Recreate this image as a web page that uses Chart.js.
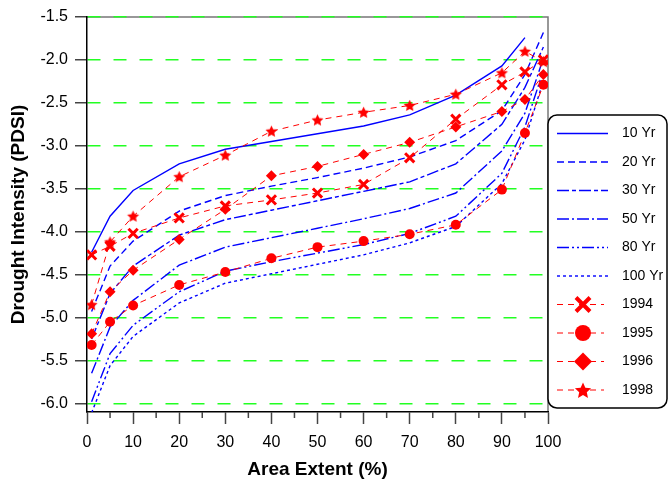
<!DOCTYPE html>
<html>
<head>
<meta charset="utf-8">
<script src="https://cdn.jsdelivr.net/npm/chart.js@4.4.1/dist/chart.umd.min.js"></script>
<style>
  html, body { margin: 0; padding: 0; background: #fff; }
</style>
</head>
<body>
<canvas id="droughtChart" width="669" height="481"></canvas>
<script>
// area extent (%) where each curve was sampled
const areaExtent = [1, 5, 10, 20, 30, 40, 50, 60, 70, 80, 90, 95, 99];

// return period curves
const yr10  = [-4.24, -3.82, -3.52, -3.21, -3.04, -2.95, -2.86, -2.77, -2.64, -2.41, -2.07, -1.74, null];
const yr20  = [-4.93, -4.40, -4.11, -3.76, -3.58, -3.47, -3.37, -3.26, -3.13, -2.94, -2.59, -2.17, -1.68];
const yr30  = [-5.25, -4.72, -4.40, -4.04, -3.86, -3.75, -3.64, -3.53, -3.42, -3.21, -2.75, -2.32, -1.85];
const yr50  = [-5.65, -5.11, -4.80, -4.39, -4.18, -4.07, -3.96, -3.85, -3.73, -3.55, -3.06, -2.62, -1.98];
const yr80  = [-5.98, -5.42, -5.09, -4.70, -4.46, -4.35, -4.25, -4.15, -4.02, -3.82, -3.32, -2.78, -2.12];
const yr100 = [-6.11, -5.56, -5.22, -4.83, -4.60, -4.49, -4.38, -4.27, -4.13, -3.94, -3.44, -2.93, -2.24];

// observed drought years
const obs1994 = [-4.27, -4.17, -4.02, -3.84, -3.70, -3.63, -3.55, -3.45, -3.14, -2.69, -2.29, -2.14, -2.00];
const obs1995 = [-5.32, -5.05, -4.86, -4.62, -4.47, -4.31, -4.18, -4.11, -4.03, -3.92, -3.51, -2.85, -2.29];
const obs1996 = [-5.19, -4.70, -4.45, -4.09, -3.74, -3.35, -3.24, -3.10, -2.96, -2.78, -2.60, -2.46, -2.17];
const obs1998 = [-4.85, -4.12, -3.82, -3.36, -3.11, -2.83, -2.70, -2.61, -2.53, -2.40, -2.15, -1.90, -2.02];

const yTicks = [-6.0, -5.5, -5.0, -4.5, -4.0, -3.5, -3.0, -2.5, -2.0, -1.5];
const xTicks = [0, 10, 20, 30, 40, 50, 60, 70, 80, 90, 100];
const xMinorTicks = [5, 15, 25, 35, 45, 55, 65, 75, 85, 95];

const toPoints = vals => areaExtent.map((x, i) => ({ x: x, y: vals[i] }));

function starPath(g, cx, cy, r) {
    g.beginPath();
    for (let i = 0; i < 10; i++) {
        const rr = i % 2 ? r * 0.47 : r;
        const a = -Math.PI / 2 + i * Math.PI / 5;
        g.lineTo(cx + rr * Math.cos(a), cy + rr * Math.sin(a));
    }
    g.closePath();
}

function makeStar(r) {
    const c = document.createElement('canvas');
    const s = Math.ceil(r * 2 + 2);
    c.width = s;
    c.height = s;
    const g = c.getContext('2d');
    g.fillStyle = 'red';
    starPath(g, s / 2, s / 2 + 0.5, r);
    g.fill();
    return c;
}

const BLUE = '#0000ff';
const RED = '#ff0000';

function blueLine(label, vals, dash) {
    return {
        label: label, data: toPoints(vals), borderColor: BLUE, borderWidth: 1.4,
        borderDash: dash, pointRadius: 0, tension: 0, fill: false, order: 2
    };
}

function redLine(label, vals, style, radius, bw, marker) {
    return {
        label: label, data: toPoints(vals), borderColor: RED, borderWidth: 1,
        borderDash: [6, 5], pointStyle: style, pointRadius: radius,
        pointBackgroundColor: RED, pointBorderColor: RED, pointBorderWidth: bw,
        tension: 0, fill: false, order: 1, marker: marker
    };
}

// draws the plot frame (top and right) behind the grid
const plotFrame = {
    id: 'plotFrame',
    beforeDraw(chart) {
        const { ctx, chartArea: a } = chart;
        ctx.save();
        ctx.strokeStyle = '#777';
        ctx.lineWidth = 1.5;
        ctx.beginPath();
        ctx.moveTo(a.left, a.top);
        ctx.lineTo(a.right, a.top);
        ctx.lineTo(a.right, a.bottom);
        ctx.stroke();
        ctx.restore();
    }
};

const minorTicks = {
    id: 'minorTicks',
    afterDraw(chart) {
        const { ctx, chartArea: a } = chart;
        const xs = chart.scales.x;
        ctx.save();
        ctx.strokeStyle = '#444';
        ctx.lineWidth = 1.5;
        xMinorTicks.forEach(v => {
            const px = xs.getPixelForValue(v);
            ctx.beginPath();
            ctx.moveTo(px, a.bottom);
            ctx.lineTo(px, a.bottom + 6);
            ctx.stroke();
        });
        ctx.restore();
    }
};

function drawMarker(ctx, kind, x, y) {
    ctx.fillStyle = RED;
    ctx.strokeStyle = RED;
    ctx.setLineDash([]);
    if (kind === 'x') {
        ctx.lineWidth = 4;
        const d = 7;
        ctx.beginPath();
        ctx.moveTo(x - d, y - d); ctx.lineTo(x + d, y + d);
        ctx.moveTo(x - d, y + d); ctx.lineTo(x + d, y - d);
        ctx.stroke();
    } else if (kind === 'circle') {
        ctx.beginPath();
        ctx.arc(x, y, 8, 0, Math.PI * 2);
        ctx.fill();
    } else if (kind === 'diamond') {
        ctx.beginPath();
        ctx.moveTo(x - 9, y); ctx.lineTo(x, y - 9); ctx.lineTo(x + 9, y); ctx.lineTo(x, y + 9);
        ctx.closePath();
        ctx.fill();
    } else if (kind === 'star') {
        starPath(ctx, x, y + 1, 8.5);
        ctx.fill();
    }
}

const boxLegend = {
    id: 'boxLegend',
    afterDraw(chart) {
        const ctx = chart.ctx;
        const left = chart.chartArea.right, top = 115, w = 119, h = 293;
        ctx.save();
        ctx.fillStyle = '#fff';
        ctx.strokeStyle = '#000';
        ctx.lineWidth = 1.5;
        ctx.beginPath();
        ctx.roundRect(left, top, w, h, 9);
        ctx.fill();
        ctx.stroke();
        chart.data.datasets.forEach((ds, i) => {
            const y = top + 18.5 + i * 28.5;
            const end = ds.marker ? left + 56 : left + 60;
            ctx.strokeStyle = ds.borderColor;
            ctx.lineWidth = ds.borderWidth;
            ctx.setLineDash(ds.borderDash || []);
            ctx.beginPath();
            ctx.moveTo(left + 9, y);
            ctx.lineTo(end, y);
            ctx.stroke();
            if (ds.marker) drawMarker(ctx, ds.marker, left + 35, y);
            ctx.fillStyle = '#000';
            ctx.font = "14px 'Liberation Sans', Arial, sans-serif";
            ctx.textBaseline = 'middle';
            ctx.textAlign = 'left';
            ctx.fillText(ds.label, left + 74, y);
        });
        ctx.restore();
    }
};

Chart.defaults.font.family = "'Liberation Sans', Arial, sans-serif";
Chart.defaults.color = '#000';

new Chart(document.getElementById('droughtChart').getContext('2d'), {
    type: 'line',
    data: {
        datasets: [
            blueLine('10 Yr', yr10, []),
            blueLine('20 Yr', yr20, [7, 4]),
            blueLine('30 Yr', yr30, [12, 3, 4, 3]),
            blueLine('50 Yr', yr50, [12, 3, 2, 3]),
            blueLine('80 Yr', yr80, [12, 3, 2, 3, 2, 3]),
            blueLine('100 Yr', yr100, [3, 3]),
            redLine('1994', obs1994, 'crossRot', 6.5, 3, 'x'),
            redLine('1995', obs1995, 'circle', 5, 0, 'circle'),
            redLine('1996', obs1996, 'rectRot', 5.5, 0, 'diamond'),
            redLine('1998', obs1998, makeStar(6.3), 6, 0, 'star')
        ]
    },
    options: {
        responsive: false,
        animation: false,
        layout: { padding: { top: 17, right: 121, bottom: 0, left: 0 } },
        plugins: {
            legend: { display: false },
            tooltip: { enabled: false }
        },
        scales: {
            x: {
                type: 'linear',
                min: 0,
                max: 100,
                afterBuildTicks: s => { s.ticks = xTicks.map(v => ({ value: v })); },
                afterFit: s => { s.height = 69; },
                ticks: { font: { size: 16 }, color: '#000', padding: 9, maxRotation: 0, autoSkip: false },
                grid: { drawOnChartArea: false, tickLength: 12, tickColor: '#444', tickWidth: 1.5 },
                border: { color: '#000', width: 1.5 },
                title: {
                    display: true, text: 'Area Extent (%)', color: '#000',
                    font: { size: 19, weight: 'bold' }, padding: { top: 0, bottom: 0 }
                }
            },
            y: {
                type: 'linear',
                min: -6.1,
                max: -1.5,
                afterBuildTicks: s => { s.ticks = yTicks.map(v => ({ value: v })); },
                afterFit: s => { s.width = 87; },
                ticks: { font: { size: 16 }, color: '#000', padding: 7, callback: v => v.toFixed(1) },
                grid: { color: '#22ff22', lineWidth: 1.5, tickLength: 12, tickColor: '#444', tickWidth: 1.5 },
                border: { display: true, color: '#000', width: 1.5, dash: [13, 13] },
                title: {
                    display: true, text: 'Drought Intensity (PDSI)', color: '#000',
                    font: { size: 19, weight: 'bold' }, padding: { top: 7, bottom: 0 }
                }
            }
        }
    },
    plugins: [plotFrame, minorTicks, boxLegend]
});
</script>
</body>
</html>
